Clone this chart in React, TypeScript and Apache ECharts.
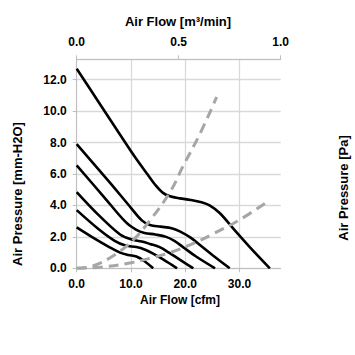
import React, { useEffect, useRef } from "react";
import * as echarts from "echarts";

// Fan P-Q curves: [cfm, mm-H2O]
const fan1: number[][] = [[0, 12.7], [4, 10.6], [8, 8.5], [11, 6.95], [13, 6.0], [14.5, 5.3], [15.9, 4.8], [17.2, 4.58], [19, 4.45], [21, 4.35], [23, 4.2], [24.5, 4.0], [26.4, 3.5], [28.8, 2.55], [31.9, 1.35], [35.6, 0]];
const fan2: number[][] = [[0, 7.9], [6, 5.5], [10, 3.85], [12, 3.05], [13.5, 2.75], [15.5, 2.65], [17.5, 2.55], [19, 2.35], [21, 1.95], [23, 1.4], [25, 0.85], [28.2, 0]];
const fan3: number[][] = [[0, 6.55], [5, 4.55], [9, 2.95], [11, 2.45], [12.5, 2.25], [14.5, 2.15], [16.5, 2.0], [18, 1.75], [19.6, 1.35], [22, 0.75], [25.5, 0]];
const fan4: number[][] = [[0, 4.85], [4, 3.4], [8, 2.15], [10, 1.85], [12, 1.7], [13.5, 1.55], [15.3, 1.35], [17, 1.0], [19, 0.55], [21.5, 0]];
const fan5: number[][] = [[0, 3.7], [4, 2.5], [7, 1.75], [9, 1.45], [11, 1.35], [12.5, 1.2], [14, 0.95], [16, 0.55], [18.5, 0]];
const fan6: number[][] = [[0, 2.6], [3, 1.95], [6, 1.35], [8, 1.0], [9.5, 0.85], [11, 0.75], [12.5, 0.45], [14.1, 0]];
// System impedance curves
const impedanceA: number[][] = [[0, 0], [3, 0.15], [6.75, 0.8], [10.4, 1.8], [13.5, 3.05], [17.2, 4.85], [19.6, 6.5], [22.7, 8.55], [25.8, 10.9]];
const impedanceB: number[][] = [[0, 0], [5, 0.09], [10, 0.35], [14, 0.68], [17.2, 1.0], [21, 1.5], [25.2, 2.2], [30.1, 3.1], [35, 4.2]];

const fanCurves = [fan1, fan2, fan3, fan4, fan5, fan6];
const impedanceCurves = [impedanceA, impedanceB];

const cfmTicks = [0, 10, 20, 30];
const cfmMax = 37.6;
const pressureMax = 13.3;
const m3Ticks = [0, 0.5, 1.0];

const FONT = "Liberation Sans";

export default function App() {
  const ref = useRef<HTMLDivElement>(null);
  useEffect(() => {
    if (!ref.current) return;
    const chart = echarts.init(ref.current, null, { renderer: "svg" });
    const labelStyle = { fontFamily: FONT, fontWeight: "bold" as const, fontSize: 12, color: "#000" };
    const series: any[] = [];
    fanCurves.forEach((d, i) => {
      series.push({
        type: "line", name: "fan" + (i + 1), data: d, xAxisIndex: 0, yAxisIndex: 0,
        showSymbol: false, smooth: 0.35, lineStyle: { color: "#000", width: 2.6 }, silent: true,
      });
    });
    impedanceCurves.forEach((d, i) => {
      series.push({
        type: "line", name: "imp" + (i + 1), data: d, xAxisIndex: 0, yAxisIndex: 0,
        showSymbol: false, smooth: 0.4, lineStyle: { color: "#a6a6a6", width: 3, type: [10, 6] }, silent: true,
      });
    });
    chart.setOption({
      animation: false,
      backgroundColor: "#fff",
      grid: { left: 76.7, right: 74.3, top: 59.3, bottom: 86.7, containLabel: false },
      xAxis: [
        {
          type: "value", position: "bottom", min: 0, max: cfmMax, interval: 10,
          axisLine: { show: true, lineStyle: { color: "#bfbfbf", width: 1 } },
          axisTick: { show: true, length: 4, lineStyle: { color: "#bfbfbf" } },
          axisLabel: { ...labelStyle, margin: 10, showMaxLabel: false, formatter: (v: number) => (cfmTicks.includes(v) ? v.toFixed(1) : "") },
          splitLine: { show: true, lineStyle: { color: ["#d9d9d9", "#d9d9d9", "#d9d9d9", "#d9d9d9", "rgba(0,0,0,0)"], width: 1.3 } },
        },
        {
          type: "value", position: "top", min: 0, max: 1, interval: 0.5,
          axisLine: { show: true, lineStyle: { color: "#bfbfbf", width: 1 } },
          axisTick: { show: true, length: 4, lineStyle: { color: "#bfbfbf" } },
          axisLabel: { ...labelStyle, margin: 11, formatter: (v: number) => (m3Ticks.includes(v) ? v.toFixed(1) : "") },
          splitLine: { show: false },
        },
      ],
      yAxis: [
        {
          type: "value", min: 0, max: pressureMax, interval: 2,
          axisLine: { show: true, lineStyle: { color: "#bfbfbf", width: 1 } },
          axisTick: { show: true, length: 4, lineStyle: { color: "#bfbfbf" } },
          axisLabel: { ...labelStyle, margin: 10, showMaxLabel: false, formatter: (v: number) => (v % 2 === 0 ? v.toFixed(1) : "") },
          splitLine: { show: true, lineStyle: { color: "#d9d9d9", width: 1.3 } },
        },
      ],
      graphic: [
        { type: "text", x: 178, y: 21, style: { text: "Air Flow [m³/min]", fontFamily: FONT, fontWeight: "bold", fontSize: 13, fill: "#000", align: "center", verticalAlign: "middle" } },
        { type: "text", x: 180, y: 300, style: { text: "Air Flow [cfm]", fontFamily: FONT, fontWeight: "bold", fontSize: 12, fill: "#000", align: "center", verticalAlign: "middle" } },
        { type: "text", x: 17, y: 194, rotation: Math.PI / 2, style: { text: "Air Pressure [mm-H2O]", fontFamily: FONT, fontWeight: "bold", fontSize: 13, fill: "#000", align: "center", verticalAlign: "middle" } },
        { type: "text", x: 343, y: 188, rotation: Math.PI / 2, style: { text: "Air Pressure [Pa]", fontFamily: FONT, fontWeight: "bold", fontSize: 13, fill: "#000", align: "center", verticalAlign: "middle" } },
      ],
      series,
    });
    return () => chart.dispose();
  }, []);
  return <div ref={ref} style={{ position: "fixed", left: 0, top: 0, width: 355, height: 355, background: "#fff" }} />;
}
